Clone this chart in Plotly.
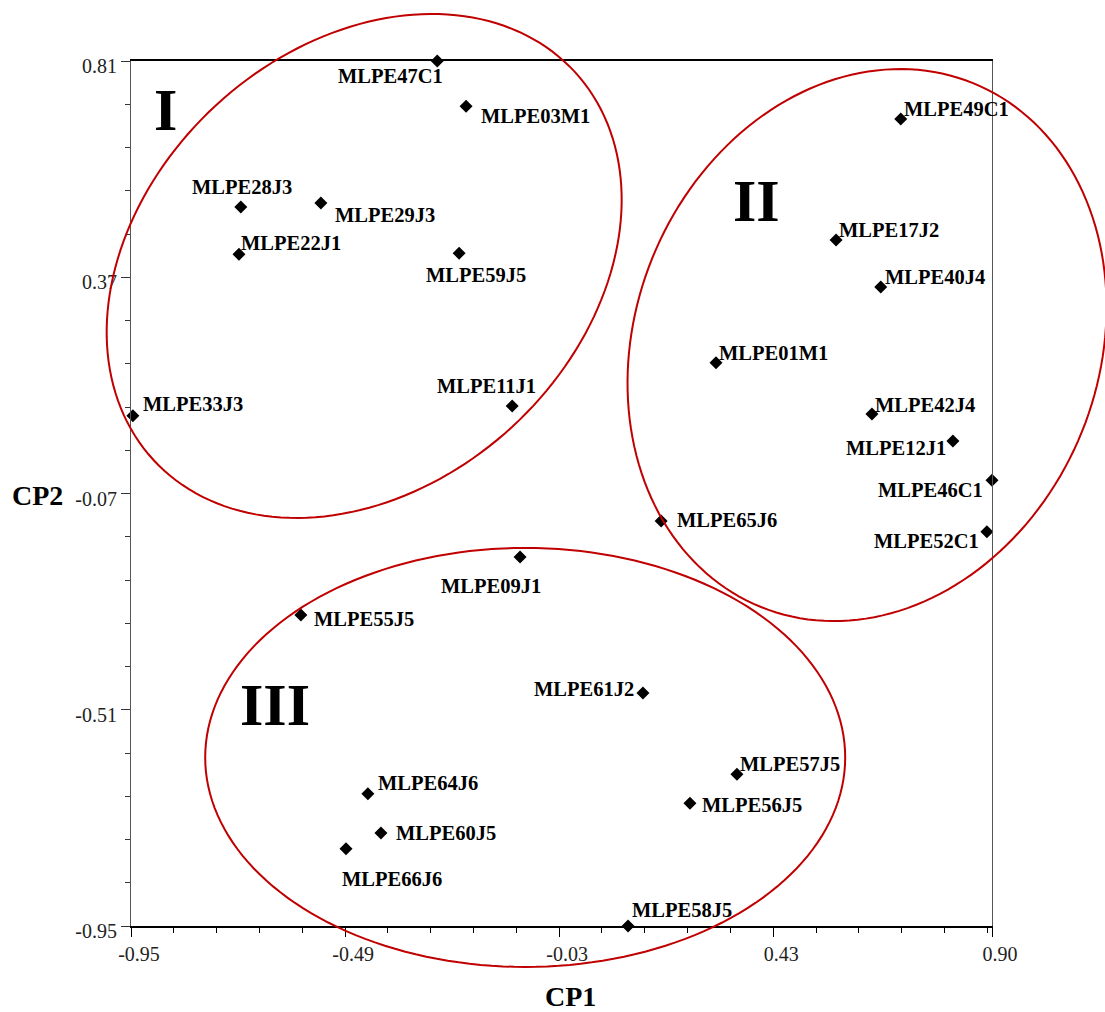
import numpy as np
import plotly.graph_objects as go

# ---------------- data ----------------
names = ["MLPE47C1", "MLPE03M1", "MLPE28J3", "MLPE29J3", "MLPE22J1", "MLPE59J5",
         "MLPE33J3", "MLPE11J1", "MLPE49C1", "MLPE17J2", "MLPE40J4", "MLPE01M1",
         "MLPE42J4", "MLPE12J1", "MLPE46C1", "MLPE52C1", "MLPE65J6", "MLPE09J1",
         "MLPE55J5", "MLPE61J2", "MLPE57J5", "MLPE56J5", "MLPE64J6", "MLPE60J5",
         "MLPE66J6", "MLPE58J5"]
cp1 = [-0.292, -0.230, -0.714, -0.542, -0.718, -0.245,
       -0.946, -0.131, 0.704, 0.565, 0.661, 0.307,
       0.642, 0.816, 0.900, 0.889, 0.189, -0.114,
       -0.585, 0.150, 0.352, 0.251, -0.441, -0.413,
       -0.488, 0.118]
cp2 = [0.810, 0.718, 0.513, 0.521, 0.417, 0.419,
       0.088, 0.108, 0.692, 0.446, 0.350, 0.196,
       0.092, 0.037, -0.043, -0.148, -0.126, -0.199,
       -0.317, -0.476, -0.641, -0.700, -0.681, -0.761,
       -0.793, -0.950]

x_tick_vals = [-0.95, -0.49, -0.03, 0.43, 0.90]
x_tick_text = ["-0.95", "-0.49", "-0.03", "0.43", "0.90"]
y_tick_vals = [-0.95, -0.51, -0.07, 0.37, 0.81]
y_tick_text = ["-0.95", "-0.51", "-0.07", "0.37", "0.81"]

group_names = ["I", "II", "III"]
group_label_x = [-0.875, 0.395, -0.641]
group_label_y = [0.710, 0.525, -0.500]

# ellipse groups: centre (data units)
ell_cx = [-0.449, 0.6315, -0.103]
ell_cy = [0.393, 0.232, -0.607]

# ---------------- layout constants ----------------
W, H = 1105, 1012
ML, MR, MT, MB = 131, 113, 61, 86
PW, PH = W - ML - MR, H - MT - MB
XR = [-0.95, 0.90]
YR = [-0.95, 0.81]
FONT = "Liberation Serif, Times New Roman, serif"

# ellipse shape (pixels): semi-axis a, semi-axis b, rotation deg
ell_shape = [(286.4, 218.6, 42.65), (282.6, 231.7, 67.97), (320.0, 209.5, 0.0)]

# label placement: anchor, dx px, dy px (down positive)
label_pos = {
    "MLPE47C1": ("center", -47, 15), "MLPE03M1": ("left", 13, 10),
    "MLPE28J3": ("center", 1, -20), "MLPE29J3": ("left", 12, 12),
    "MLPE22J1": ("left", 0, -11), "MLPE59J5": ("center", 17, 22),
    "MLPE33J3": ("left", 8, -12), "MLPE11J1": ("center", -26, -20),
    "MLPE49C1": ("left", 1, -10), "MLPE17J2": ("left", 1, -10),
    "MLPE40J4": ("left", 2, -10), "MLPE01M1": ("left", 1, -10),
    "MLPE42J4": ("left", 1, -9), "MLPE12J1": ("right", -5, 7),
    "MLPE46C1": ("right", -7, 10), "MLPE52C1": ("right", -6, 9),
    "MLPE65J6": ("left", 14, -1), "MLPE09J1": ("center", -29, 29),
    "MLPE55J5": ("left", 11, 4), "MLPE61J2": ("right", -7, -4),
    "MLPE57J5": ("left", 1, -10), "MLPE56J5": ("left", 10, 2),
    "MLPE64J6": ("left", 8, -11), "MLPE60J5": ("left", 13, 0),
    "MLPE66J6": ("center", 46, 30), "MLPE58J5": ("left", 2, -16),
}

fig = go.Figure()
fig.add_trace(go.Scatter(
    x=cp1, y=cp2, mode="markers",
    marker=dict(symbol="diamond", size=10, color="black"),
    cliponaxis=False, hoverinfo="text", text=names, showlegend=False,
))

annotations = []
for n, x, y in zip(names, cp1, cp2):
    anc, dx, dy = label_pos[n]
    annotations.append(dict(
        x=x, y=y, xref="x", yref="y", text=n, showarrow=False,
        xanchor=anc, yanchor="middle", xshift=dx, yshift=-dy,
        font=dict(family=FONT, size=20.5, color="black", weight="bold"),
    ))
for g, gx, gy in zip(group_names, group_label_x, group_label_y):
    annotations.append(dict(
        x=gx, y=gy, xref="x", yref="y", text=g, showarrow=False,
        xanchor="center", yanchor="middle",
        font=dict(family=FONT, size=60, color="black", weight="bold"),
    ))
# axis titles
annotations.append(dict(x=(570 - ML) / PW, y=(H - MB - 997) / PH, xref="paper", yref="paper",
                        text="CP1", showarrow=False, xanchor="center", yanchor="middle",
                        font=dict(family=FONT, size=28, color="black", weight="bold")))
annotations.append(dict(x=(37 - ML) / PW, y=(H - MB - 495) / PH, xref="paper", yref="paper",
                        text="CP2", showarrow=False, xanchor="center", yanchor="middle",
                        font=dict(family=FONT, size=28, color="black", weight="bold")))

shapes = []
t = np.linspace(0, 2 * np.pi, 181)
for cx, cy, (a, b, ang) in zip(ell_cx, ell_cy, ell_shape):
    p = np.deg2rad(ang)
    dxp = a * np.cos(t) * np.cos(p) - b * np.sin(t) * np.sin(p)
    dyp = a * np.cos(t) * np.sin(p) + b * np.sin(t) * np.cos(p)
    px = (cx - XR[0]) / (XR[1] - XR[0]) + dxp / PW
    py = (cy - YR[0]) / (YR[1] - YR[0]) + dyp / PH
    path = "M " + " L ".join(f"{u:.5f},{v:.5f}" for u, v in zip(px, py)) + " Z"
    shapes.append(dict(type="path", path=path, xref="paper", yref="paper",
                       line=dict(color="#c00000", width=2), layer="above"))

x_minor = np.arange(-0.95, 0.90, 0.092)
y_minor = np.arange(-0.95, 0.81, 0.088)

fig.update_layout(
    width=W, height=H,
    margin=dict(l=ML, r=MR, t=MT, b=MB),
    plot_bgcolor="white", paper_bgcolor="white",
    annotations=annotations, shapes=shapes,
    xaxis=dict(range=XR, tickmode="array", tickvals=x_tick_vals, ticktext=x_tick_text,
               showgrid=False, zeroline=False, showline=True, linecolor="black",
               linewidth=1.5, mirror=True, ticks="outside", ticklen=9, tickcolor="black",
               ticklabelshift=8,
               tickfont=dict(family=FONT, size=20, color="#222"),
               minor=dict(tickmode="array", tickvals=list(x_minor), ticks="outside",
                          ticklen=5, tickcolor="black", showgrid=False)),
    yaxis=dict(range=YR, tickmode="array", tickvals=y_tick_vals, ticktext=y_tick_text,
               showgrid=False, zeroline=False, showline=True, linecolor="#555",
               linewidth=1.2, mirror=True, ticks="outside", ticklen=9, tickcolor="#333",
               ticklabelshift=5,
               tickfont=dict(family=FONT, size=20, color="#222"),
               minor=dict(tickmode="array", tickvals=list(y_minor), ticks="outside",
                          ticklen=5, tickcolor="#333", showgrid=False)),
)

fig.write_html("out.html", config={"displayModeBar": False},
               post_script="document.body.style.margin='0px';")
